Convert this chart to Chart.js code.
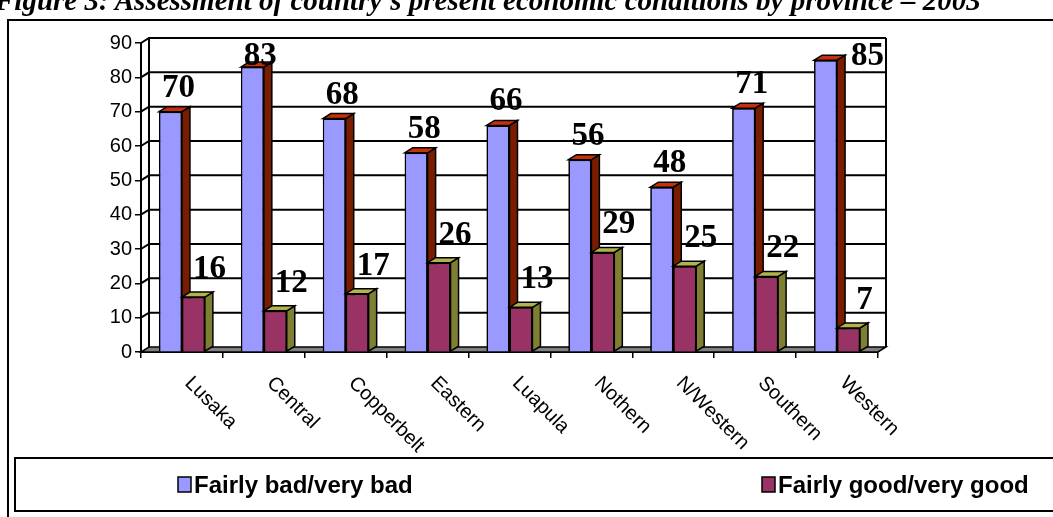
<!DOCTYPE html>
<html>
<head>
<meta charset="utf-8">
<script src="https://cdn.jsdelivr.net/npm/chart.js@4.4.1/dist/chart.umd.min.js"></script>
<style>
  html, body { margin: 0; padding: 0; background: #fff; overflow: hidden; }
  #wrap { position: relative; width: 1053px; height: 517px; }
  #title {
    position: absolute; left: -5px; top: -14px; white-space: nowrap;
    font: italic bold 29px "Liberation Serif", "Times New Roman", serif;
    line-height: 29px; color: #000;
  }
  canvas { position: absolute; left: 0; top: 0; }
</style>
</head>
<body>
<div id="wrap">
  <canvas id="barChart" width="1053" height="517"></canvas>
  <div id="title">Figure 3: Assessment of country's present economic conditions by province – 2003</div>
</div>
<script>
const categories = ["Lusaka", "Central", "Copperbelt", "Eastern", "Luapula", "Nothern", "N/Western", "Southern", "Western"];
const fairlyBad = [70, 83, 68, 58, 66, 56, 48, 71, 85];
const fairlyGood = [16, 12, 17, 26, 13, 29, 25, 22, 7];
const seriesNames = ["Fairly bad/very bad", "Fairly good/very good"];
const yMax = 90;
const yStep = 10;

// 3d look: depth of the walls and bars
const DX = 8, DY = 5;
const faces = [
  { front: "#9999FF", side: "#7A1C00", top: "#C8300A" },
  { front: "#993366", side: "#7F7F33", top: "#B3B34D" },
];

function poly(ctx, pts, fill) {
  ctx.beginPath();
  ctx.moveTo(pts[0][0], pts[0][1]);
  for (let k = 1; k < pts.length; k++) ctx.lineTo(pts[k][0], pts[k][1]);
  ctx.closePath();
  if (fill) { ctx.fillStyle = fill; ctx.fill(); }
  ctx.stroke();
}

const walls = {
  id: "walls",
  beforeDraw(chart) {
    const ctx = chart.ctx;
    ctx.save();
    ctx.strokeStyle = "#000";
    ctx.lineWidth = 2;
    ctx.strokeRect(8, 20, 1060, 510);
    ctx.restore();
  },
  beforeDatasetsDraw(chart) {
    const { ctx, chartArea: a, scales: { y } } = chart;
    ctx.save();
    ctx.strokeStyle = "#000";
    ctx.lineWidth = 1.5;
    // floor
    poly(ctx, [[a.left, a.bottom], [a.right, a.bottom], [a.right + DX, a.bottom - DY], [a.left + DX, a.bottom - DY]], "#808080");
    ctx.lineWidth = 2;
    for (let v = yStep; v <= yMax; v += yStep) {
      const py = y.getPixelForValue(v);
      ctx.beginPath();
      ctx.moveTo(a.left, py);
      ctx.lineTo(a.left + DX, py - DY);
      ctx.lineTo(a.right + DX, py - DY);
      ctx.stroke();
    }
    ctx.beginPath();
    ctx.moveTo(a.left + DX, a.top - DY);
    ctx.lineTo(a.left + DX, a.bottom - DY);
    ctx.moveTo(a.right + DX, a.top - DY);
    ctx.lineTo(a.right + DX, a.bottom - DY);
    ctx.stroke();
    ctx.restore();
  },
  afterDatasetsDraw(chart) {
    // sides and tops, series by series, so the next front hides the earlier side
    const ctx = chart.ctx;
    ctx.save();
    chart.data.datasets.forEach((ds, di) => {
      const f = faces[di];
      chart.getDatasetMeta(di).data.forEach((bar) => {
        bar.draw(ctx);
        const l = bar.x - bar.width / 2, r = bar.x + bar.width / 2;
        ctx.strokeStyle = "#000";
        ctx.lineWidth = 1.5;
        poly(ctx, [[r, bar.y], [r + DX, bar.y - DY], [r + DX, bar.base - DY], [r, bar.base]], f.side);
        poly(ctx, [[l, bar.y], [l + DX, bar.y - DY], [r + DX, bar.y - DY], [r, bar.y]], f.top);
      });
    });
    ctx.restore();
  },
  afterDraw(chart) {
    const { ctx, chartArea: a, scales: { x } } = chart;
    ctx.save();
    // value labels
    ctx.fillStyle = "#000";
    ctx.font = "bold 33px 'Liberation Serif', 'Times New Roman', serif";
    ctx.textAlign = "center";
    ctx.textBaseline = "alphabetic";
    chart.data.datasets.forEach((ds, di) => {
      chart.getDatasetMeta(di).data.forEach((bar, i) => {
        let bx = bar.x + (di === 0 ? 8 : 16);
        let by = bar.y - (di === 0 ? 15 : 19);
        if (by < a.top + 22) {
          by = a.top + 22;
          if (i === ds.data.length - 1) bx += 34; // no room above the last tall bar
        }
        ctx.fillText(ds.data[i], bx, by);
      });
    });
    // category labels, slanting down to the right
    ctx.font = "20px 'Liberation Sans', Arial, sans-serif";
    ctx.textAlign = "left";
    ctx.textBaseline = "middle";
    chart.data.labels.forEach((lab, i) => {
      const px = x.getPixelForValue(i);
      ctx.save();
      ctx.translate(px + 6, a.bottom + 28);
      ctx.rotate(Math.PI / 4);
      ctx.fillText(lab, 0, 0);
      ctx.restore();
    });
    // legend
    ctx.strokeStyle = "#000";
    ctx.lineWidth = 2;
    ctx.strokeRect(15, 458, 1060, 53);
    ctx.font = "bold 24px 'Liberation Sans', Arial, sans-serif";
    const spots = [178, 762];
    chart.data.datasets.forEach((ds, di) => {
      ctx.lineWidth = 1.5;
      ctx.fillStyle = ds.backgroundColor;
      ctx.fillRect(spots[di], 477, 13, 15);
      ctx.strokeRect(spots[di], 477, 13, 15);
      ctx.fillStyle = "#000";
      ctx.fillText(ds.label, spots[di] + 16, 486);
    });
    ctx.restore();
  },
};

const ctx = document.getElementById("barChart").getContext("2d");
new Chart(ctx, {
  type: "bar",
  data: {
    labels: categories,
    datasets: [
      {
        label: seriesNames[0],
        data: fairlyBad,
        backgroundColor: faces[0].front,
        borderColor: "#000",
        borderWidth: 1.5,
      },
      {
        label: seriesNames[1],
        data: fairlyGood,
        backgroundColor: faces[1].front,
        borderColor: "#000",
        borderWidth: 1.5,
      },
    ],
  },
  options: {
    responsive: false,
    animation: false,
    events: [],
    categoryPercentage: 0.56,
    barPercentage: 1,
    layout: { padding: { left: 81, right: 175, top: 43, bottom: 155 } },
    plugins: { legend: { display: false }, tooltip: { enabled: false } },
    scales: {
      x: {
        ticks: { display: false },
        grid: { drawOnChartArea: false, color: "#000", lineWidth: 1.5, tickLength: 6, offset: true },
        border: { color: "#000", width: 2 },
        afterFit: (s) => { s.height = 10; },
      },
      y: {
        min: 0,
        max: yMax,
        ticks: {
          stepSize: yStep,
          color: "#000",
          padding: 3,
          font: { family: "'Liberation Sans', Arial, sans-serif", size: 20 },
        },
        grid: { drawOnChartArea: false, color: "#000", lineWidth: 1.5, tickLength: 6 },
        border: { color: "#000", width: 2 },
        afterFit: (s) => { s.width = 60; },
      },
    },
  },
  plugins: [walls],
});
</script>
</body>
</html>
